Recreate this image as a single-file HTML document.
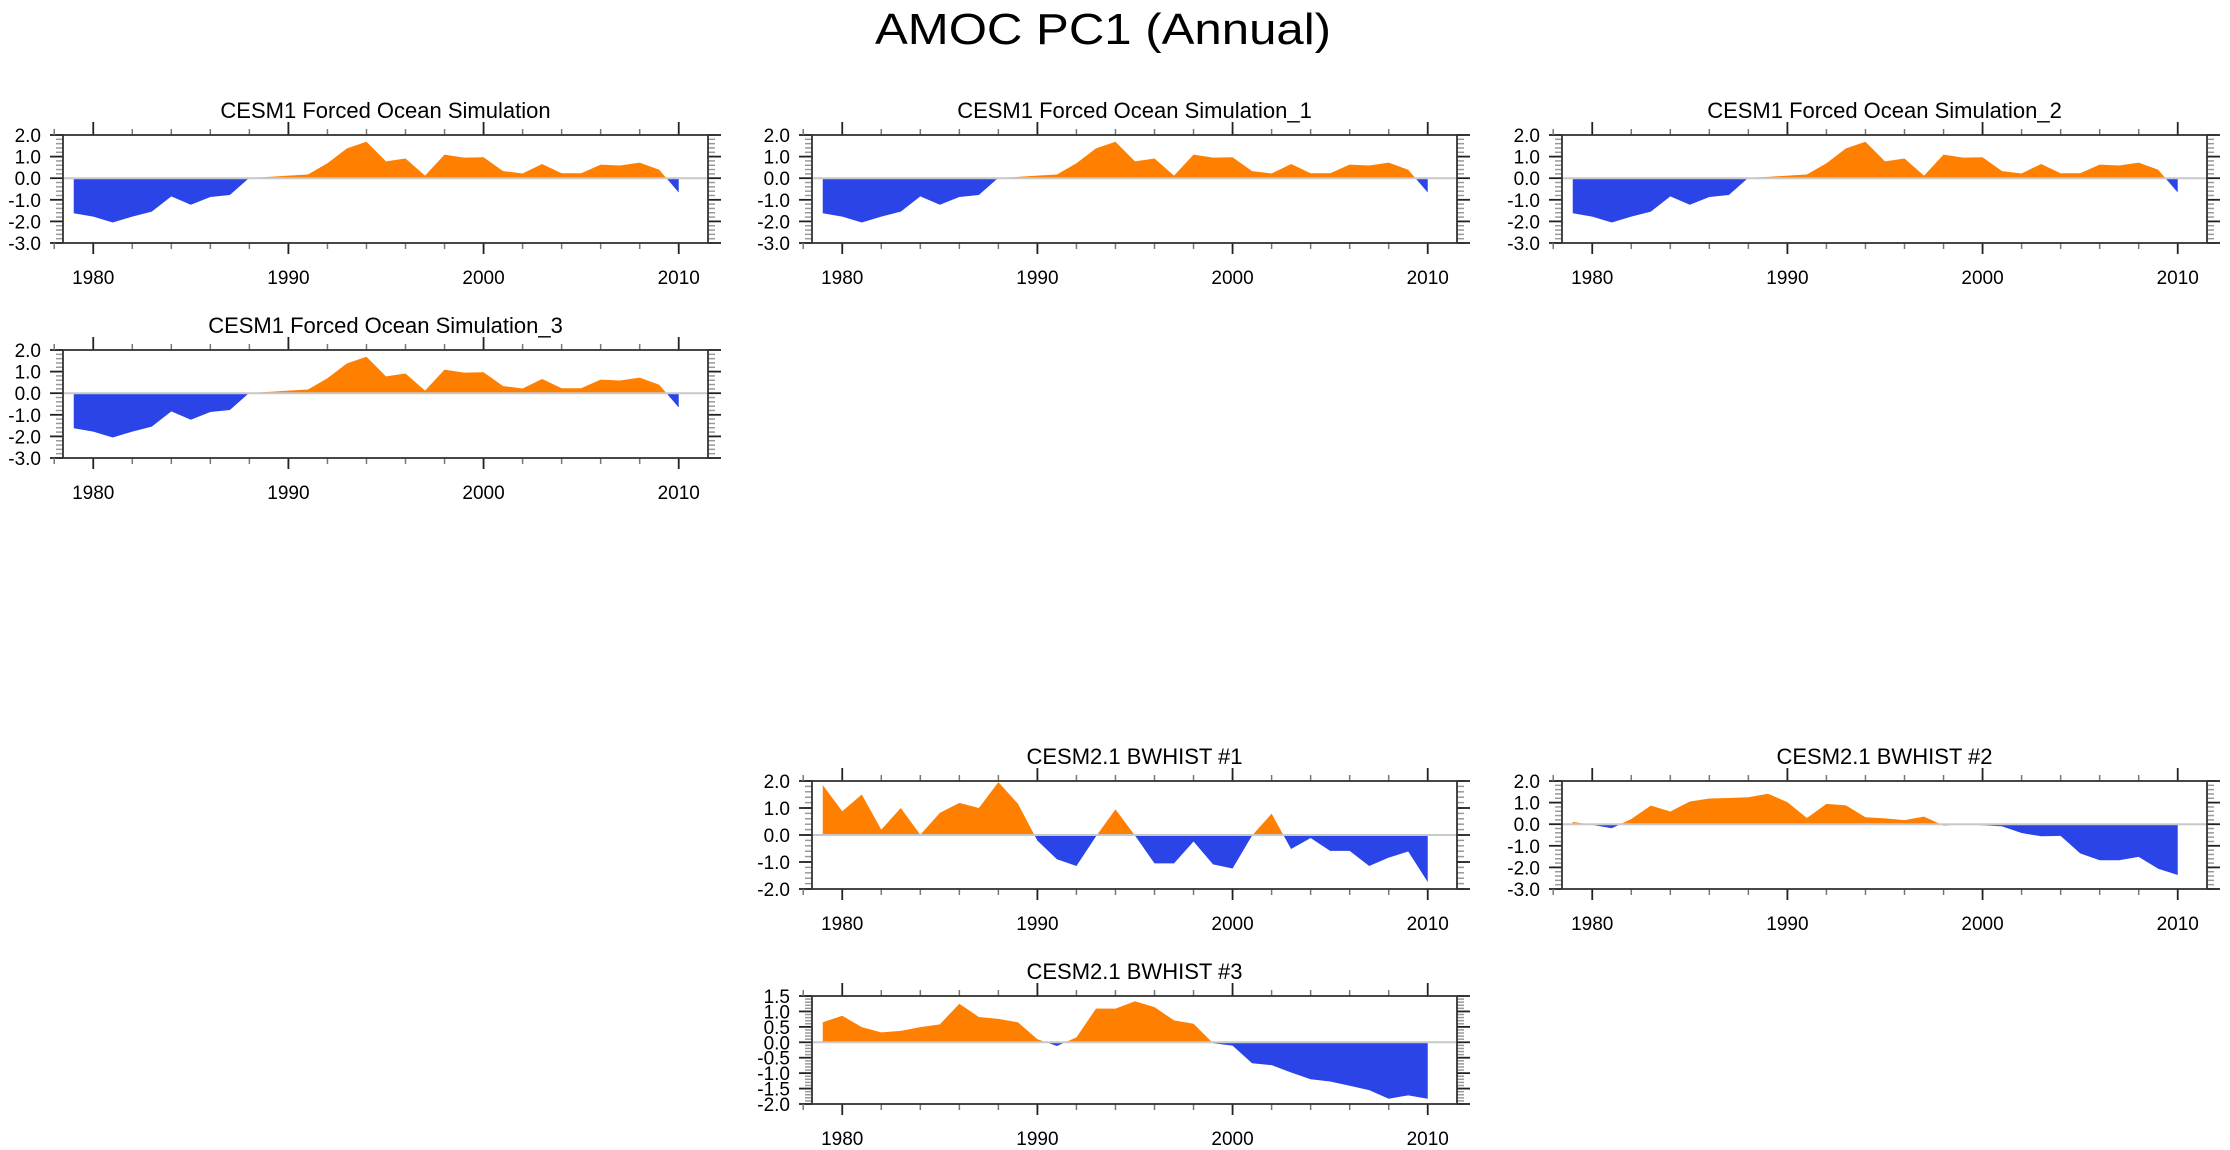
<!DOCTYPE html>
<html><head><meta charset="utf-8"><style>
html,body{margin:0;padding:0;background:#fff;}
svg{display:block;font-family:"Liberation Sans",sans-serif;}
</style></head><body>
<svg id="chart" width="2230" height="1150" viewBox="0 0 2230 1150">
<text x="1103" y="44" font-size="44" text-anchor="middle" textLength="456" lengthAdjust="spacingAndGlyphs">AMOC PC1 (Annual)</text>
</svg>
<script>
const years = [1979,1980,1981,1982,1983,1984,1985,1986,1987,1988,1989,1990,1991,1992,1993,1994,1995,1996,1997,1998,1999,2000,2001,2002,2003,2004,2005,2006,2007,2008,2009,2010];
const cesm1Values = [-1.62,-1.78,-2.05,-1.78,-1.55,-0.84,-1.23,-0.87,-0.78,0.02,0.06,0.12,0.17,0.69,1.38,1.69,0.78,0.91,0.12,1.09,0.95,0.97,0.33,0.22,0.66,0.23,0.23,0.63,0.59,0.72,0.39,-0.66];
const bwhist1Values = [1.85,0.88,1.5,0.2,1.0,0.01,0.82,1.19,1.0,1.96,1.16,-0.21,-0.9,-1.15,-0.05,0.95,-0.02,-1.05,-1.05,-0.24,-1.09,-1.24,-0.02,0.79,-0.52,-0.11,-0.59,-0.59,-1.15,-0.84,-0.61,-1.74];
const bwhist2Values = [0.11,-0.03,-0.19,0.24,0.86,0.59,1.05,1.19,1.21,1.25,1.41,1.02,0.29,0.94,0.87,0.32,0.27,0.19,0.35,-0.06,-0.01,-0.05,-0.1,-0.41,-0.56,-0.54,-1.35,-1.67,-1.67,-1.51,-2.06,-2.35];
const bwhist3Values = [0.65,0.86,0.49,0.32,0.37,0.49,0.58,1.25,0.82,0.76,0.65,0.1,-0.12,0.16,1.09,1.09,1.33,1.14,0.71,0.6,-0.03,-0.11,-0.68,-0.74,-0.98,-1.2,-1.27,-1.41,-1.55,-1.83,-1.72,-1.83];
const xTickLabels = ["1980","1990","2000","2010"];
const yTicksA = [-3,-2,-1,0,1,2];
const yTicksB = [-2,-1,0,1,2];
const yTicksC = [-2,-1.5,-1,-0.5,0,0.5,1,1.5];

const NS="http://www.w3.org/2000/svg";
const svg=document.getElementById('chart');
function mk(tag,attrs,parent){const e=document.createElementNS(NS,tag);for(const k in attrs)e.setAttribute(k,attrs[k]);(parent||svg).appendChild(e);return e;}

const panels=[
 {name:'cesm1-forced',title:'CESM1 Forced Ocean Simulation',x:63,y:135,vals:cesm1Values,ymin:-3,ymax:2,ticks:yTicksA,minor:0.2},
 {name:'cesm1-forced-1',title:'CESM1 Forced Ocean Simulation_1',x:812,y:135,vals:cesm1Values,ymin:-3,ymax:2,ticks:yTicksA,minor:0.2},
 {name:'cesm1-forced-2',title:'CESM1 Forced Ocean Simulation_2',x:1562,y:135,vals:cesm1Values,ymin:-3,ymax:2,ticks:yTicksA,minor:0.2},
 {name:'cesm1-forced-3',title:'CESM1 Forced Ocean Simulation_3',x:63,y:350,vals:cesm1Values,ymin:-3,ymax:2,ticks:yTicksA,minor:0.2},
 {name:'bwhist-1',title:'CESM2.1 BWHIST #1',x:812,y:781,vals:bwhist1Values,ymin:-2,ymax:2,ticks:yTicksB,minor:0.2},
 {name:'bwhist-2',title:'CESM2.1 BWHIST #2',x:1562,y:781,vals:bwhist2Values,ymin:-3,ymax:2,ticks:yTicksA,minor:0.2},
 {name:'bwhist-3',title:'CESM2.1 BWHIST #3',x:812,y:996,vals:bwhist3Values,ymin:-2,ymax:1.5,ticks:yTicksC,minor:0.1}
];
const W=645,H=108,XMIN=1978.45,XMAX=2011.5;
panels.forEach((p,pi)=>{
  const g=mk('g',{});
  
  
  const sx=v=>p.x+(v-XMIN)/(XMAX-XMIN)*W;
  const sy=v=>p.y+(p.ymax-v)/(p.ymax-p.ymin)*H;
  const y0=sy(0);
  const t=mk('text',{x:p.x+W/2,y:p.y-17,'font-size':22,'text-anchor':'middle'},g);
  t.textContent=p.title;
  
  
  const cu=mk('clipPath',{id:'cu'+pi},g); mk('rect',{x:p.x,y:p.y,width:W,height:y0-p.y},cu);
  const cd=mk('clipPath',{id:'cd'+pi},g); mk('rect',{x:p.x,y:y0,width:W,height:p.y+H-y0},cd);
  let d='M'+sx(years[0])+','+y0;
  years.forEach((yr,i)=>{d+=' L'+sx(yr).toFixed(2)+','+sy(p.vals[i]).toFixed(2);});
  d+=' L'+sx(years[years.length-1])+','+y0+' Z';
  const pos=mk('path',{d:d,fill:'#ff8000','clip-path':'url(#cu'+pi+')'},g);
  
  
  const neg=mk('path',{d:d,fill:'#2a44e8','clip-path':'url(#cd'+pi+')'},g);
  
  
  const zl=mk('line',{x1:p.x,x2:p.x+W,y1:y0,y2:y0,stroke:'#c8c8c8','stroke-width':2},g);
  
  
  const nmin=Math.round((p.ymax-p.ymin)/p.minor);
  for(let k=0;k<=nmin;k++){
    const v=p.ymin+k*p.minor,yy=sy(v);
    mk('line',{x1:p.x-7,x2:p.x,y1:yy,y2:yy,stroke:'#999','stroke-width':1.5},g);
    mk('line',{x1:p.x+W,x2:p.x+W+7,y1:yy,y2:yy,stroke:'#999','stroke-width':1.5},g);
  }
  p.ticks.forEach(v=>{
    const yy=sy(v);
    mk('line',{x1:p.x-13,x2:p.x,y1:yy,y2:yy,stroke:'#222','stroke-width':1.8},g);
    mk('line',{x1:p.x+W,x2:p.x+W+13,y1:yy,y2:yy,stroke:'#222','stroke-width':1.8},g);
    const lb=mk('text',{x:p.x-22,y:yy+7,'font-size':19,'text-anchor':'end'},g);
    lb.textContent=v.toFixed(1);
    
    
  });
  for(let yr=1978;yr<=2010;yr+=2){
    const xx=sx(yr);
    mk('line',{x1:xx,x2:xx,y1:p.y-6,y2:p.y,stroke:'#777','stroke-width':1.5},g);
    mk('line',{x1:xx,x2:xx,y1:p.y+H,y2:p.y+H+6,stroke:'#777','stroke-width':1.5},g);
  }
  xTickLabels.forEach(s=>{
    const xx=sx(+s);
    mk('line',{x1:xx,x2:xx,y1:p.y-13,y2:p.y,stroke:'#222','stroke-width':1.8},g);
    mk('line',{x1:xx,x2:xx,y1:p.y+H,y2:p.y+H+11,stroke:'#222','stroke-width':1.8},g);
    const lb=mk('text',{x:xx,y:p.y+H+41,'font-size':19,'text-anchor':'middle'},g);
    lb.textContent=s;
    
    
  });
  const box=mk('rect',{x:p.x,y:p.y,width:W,height:H,fill:'none',stroke:'#333','stroke-width':1.8},g);
  
  
});
</script>
</body></html>
